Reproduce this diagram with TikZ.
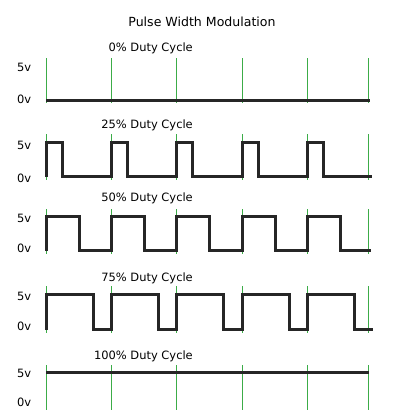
\documentclass[tikz,border=0pt]{standalone}
\usepackage{fontspec}
\setmainfont{DejaVu Sans}
\definecolor{gridgreen}{RGB}{60,172,72}
\definecolor{wavegray}{RGB}{38,38,38}
\tikzset{
  gridline/.style={draw=gridgreen, line width=1.5bp},
  wave/.style={draw=wavegray, line width=3.2bp, line join=miter},
  lvl/.style={font=\fontsize{11.5}{13}\selectfont, anchor=west, inner sep=0pt},
  captext/.style={font=\fontsize{11.5}{13}\selectfont, anchor=east, inner sep=0pt},
}
\begin{document}
\begin{tikzpicture}[x=1bp,y=-1bp]
\useasboundingbox[fill=white] (0,0) rectangle (404,418);
\node[font=\fontsize{12.6}{14}\selectfont, inner sep=0pt] (title) at (202,22) {Pulse Width Modulation};
% ---------- 0% ----------
\node[captext] (c0) at (193,48) {0\% Duty Cycle};
\node[lvl] (h0) at (17,67) {5v};
\node[lvl] (l0) at (17,99) {0v};
\foreach \x in {46.5,111.5,176.5,242.5,307.5,368.5} \draw[gridline] (\x,58) -- (\x,103);
\draw[wave] (46,100.5) -- (370,100.5);
% ---------- 25% ----------
\node[captext] (c25) at (193,125) {25\% Duty Cycle};
\node[lvl] (h25) at (17,145) {5v};
\node[lvl] (l25) at (17,178) {0v};
\foreach \x in {46.5,111.5,176.5,242.5,307.5,368.5} \draw[gridline] (\x,134) -- (\x,180);
\draw[wave] (46.5,176.5) \foreach \x in {46.5,111.5,176.5,242.5,307.5} { -- (\x,176.5) -- (\x,142.5) -- (\x+16,142.5) -- (\x+16,176.5)} -- (372,176.5);
% ---------- 50% ----------
\node[captext] (c50) at (193,198) {50\% Duty Cycle};
\node[lvl] (h50) at (17,218) {5v};
\node[lvl] (l50) at (17,248) {0v};
\foreach \x in {46.5,111.5,176.5,242.5,307.5,368.5} \draw[gridline] (\x,209) -- (\x,254);
\draw[wave] (46.5,250.5) \foreach \x in {46.5,111.5,176.5,242.5,307.5} { -- (\x,250.5) -- (\x,216.5) -- (\x+33,216.5) -- (\x+33,250.5)} -- (371,250.5);
% ---------- 75% ----------
\node[captext] (c75) at (193,278) {75\% Duty Cycle};
\node[lvl] (h75) at (17,296) {5v};
\node[lvl] (l75) at (17,326) {0v};
\foreach \x in {46.5,111.5,176.5,242.5,307.5,368.5} \draw[gridline] (\x,286) -- (\x,333);
\draw[wave] (46.5,329.5) \foreach \x in {46.5,111.5,176.5,242.5,307.5} { -- (\x,329.5) -- (\x,294.5) -- (\x+47,294.5) -- (\x+47,329.5)} -- (373,329.5);
% ---------- 100% ----------
\node[captext] (c100) at (193,356) {100\% Duty Cycle};
\node[lvl] (h100) at (17,373) {5v};
\node[lvl] (l100) at (17,402) {0v};
\foreach \x in {46.5,111.5,176.5,242.5,307.5,368.5} \draw[gridline] (\x,365) -- (\x,410);
\draw[wave] (46,372.5) -- (369,372.5);
\end{tikzpicture}
\end{document}
